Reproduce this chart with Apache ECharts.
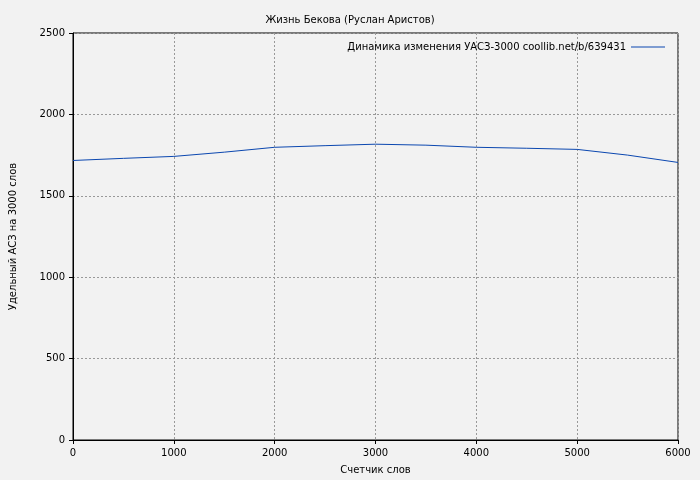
<!DOCTYPE html>
<html>
<head>
<meta charset="utf-8" />
<script src="https://cdn.jsdelivr.net/npm/echarts@6/dist/echarts.min.js"></script>
<style>
    html, body, #main { width: 100%; height: 100%; margin: 0; padding: 0; background: #f2f2f2; }
</style>
</head>
<body>
<div id="main"></div>
<script>
    var wordCounts = [0, 500, 1000, 1500, 2000, 2500, 3000, 3500, 4000, 4500, 5000, 5500, 6000];
    var uasValues = [1717, 1730, 1742, 1768, 1798, 1808, 1817, 1811, 1798, 1792, 1785, 1750, 1705];

    var chart = echarts.init(document.getElementById('main'));
    var font = 'DejaVu Sans';
    var gridLine = { show: true, lineStyle: { color: '#999', type: [2, 2], width: 1 } };
    var plain = function (v) { return String(v); };

    chart.setOption({
        backgroundColor: '#f2f2f2',
        animation: false,
        textStyle: { fontFamily: font },
        title: {
            text: 'Жизнь Бекова (Руслан Аристов)',
            left: 'center', top: 10,
            textStyle: { fontSize: 10, fontWeight: 'normal', color: '#000', fontFamily: font }
        },
        legend: {
            right: 30, top: 37,
            itemWidth: 34, itemHeight: 1, align: 'right',
            textStyle: { fontSize: 10, color: '#000', fontFamily: font },
            data: [{ name: 'Динамика изменения УАСЗ-3000 coollib.net/b/639431', icon: 'rect' }]
        },
        grid: { left: 67, right: 22, top: 33, bottom: 40, show: true, borderColor: '#000', borderWidth: 1 },
        xAxis: {
            type: 'value', min: 0, max: 6000, interval: 1000,
            name: 'Счетчик слов', nameLocation: 'middle', nameGap: 25,
            nameTextStyle: { fontSize: 10, color: '#000' },
            axisLine: { lineStyle: { color: '#000' } },
            axisTick: { length: 4, lineStyle: { color: '#000' } },
            axisLabel: { fontSize: 10, color: '#000', formatter: plain },
            splitLine: gridLine
        },
        yAxis: {
            type: 'value', min: 0, max: 2500, interval: 500,
            name: 'Удельный АСЗ на 3000 слов', nameLocation: 'middle', nameGap: 55,
            nameTextStyle: { fontSize: 10, color: '#000' },
            axisLine: { show: true, lineStyle: { color: '#000' } },
            axisTick: { show: true, length: 4, lineStyle: { color: '#000' } },
            axisLabel: { fontSize: 10, color: '#000', formatter: plain },
            splitLine: gridLine
        },
        series: [{
            name: 'Динамика изменения УАСЗ-3000 coollib.net/b/639431',
            type: 'line', smooth: false, showSymbol: false,
            lineStyle: { color: '#0b47b0', width: 1 },
            itemStyle: { color: '#0b47b0' },
            data: wordCounts.map(function (x, i) { return [x, uasValues[i]]; })
        }]
    });
</script>
</body>
</html>
